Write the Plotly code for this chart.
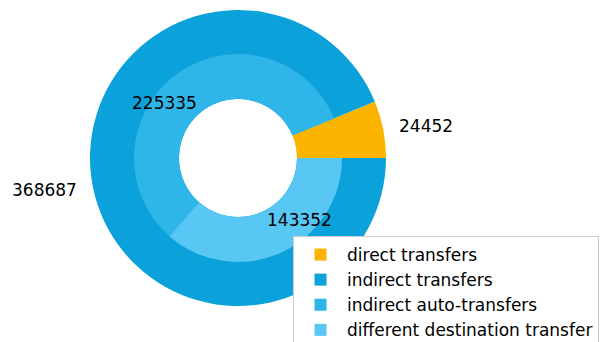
import math
import plotly.graph_objects as go

# Transfer counts
outer_labels = ["direct transfers", "indirect transfers"]
outer_values = [24452, 368687]
inner_labels = ["indirect auto-transfers", "different destination transfer"]
inner_values = [225335, 143352]

orange = "#FDB400"
blue = "#0BA1DA"
light_blue = "#2EB6E9"
lighter_blue = "#59C7F3"

W, H = 612, 342
cx, cy = 238, 184          # pie centre in px (from bottom-left)
r_out, r_in, r_hole = 148, 104, 59
font = dict(family="DejaVu Sans", size=17, color="black")

total = sum(outer_values)
# plotly's counter-clockwise pies end the first slice at `rotation`,
# so shift it back so the first slice starts at 3 o'clock
rotation = 90 - 360.0 * outer_values[0] / total

fig = go.Figure()

# Outer ring: direct vs. indirect
fig.add_trace(go.Pie(
    labels=outer_labels, values=outer_values,
    marker=dict(colors=[orange, blue]),
    hole=r_hole / r_out, sort=False, direction="counterclockwise", rotation=rotation,
    textinfo="none", hoverinfo="label+value",
    domain=dict(x=[(cx - r_out) / W, (cx + r_out) / W],
                y=[(cy - r_out) / H, (cy + r_out) / H]),
))

# Inner ring: split of the indirect transfers (direct slice kept in the same colour)
fig.add_trace(go.Pie(
    labels=[outer_labels[0]] + inner_labels,
    values=[outer_values[0]] + inner_values,
    marker=dict(colors=[orange, light_blue, lighter_blue]),
    hole=r_hole / r_in, sort=False, direction="counterclockwise", rotation=rotation,
    textinfo="none", hoverinfo="label+value",
    domain=dict(x=[(cx - r_in) / W, (cx + r_in) / W],
                y=[(cy - r_in) / H, (cy + r_in) / H]),
))


def value_labels(values, radius, offset=0.0):
    """Place value text at the mid-angle of each wedge (counter-clockwise from 3 o'clock)."""
    start = offset
    out = []
    for v in values:
        span = 360.0 * v / total
        mid = math.radians(start + span / 2)
        x = cx + radius * math.cos(mid)
        y = cy + radius * math.sin(mid)
        out.append(dict(
            x=x / W, y=y / H, xref="paper", yref="paper",
            text=str(v), showarrow=False, font=font, borderpad=0,
            xanchor="left" if math.cos(mid) > 0 else "right", yanchor="middle",
        ))
        start += span
    return out


annotations = value_labels(outer_values, 1.1 * r_out)
annotations += value_labels(inner_values, 68, offset=360.0 * outer_values[0] / total)

fig.update_layout(
    width=W, height=H,
    margin=dict(l=0, r=0, t=0, b=0, autoexpand=False),
    paper_bgcolor="white", plot_bgcolor="white",
    font=font,
    annotations=annotations,
    legend=dict(
        x=293 / W, y=(H - 236) / H, xanchor="left", yanchor="top",
        bgcolor="white", bordercolor="#CCCCCC", borderwidth=1,
        font=font,
        itemwidth=43,
    ),
)

fig.write_html("out.html")
